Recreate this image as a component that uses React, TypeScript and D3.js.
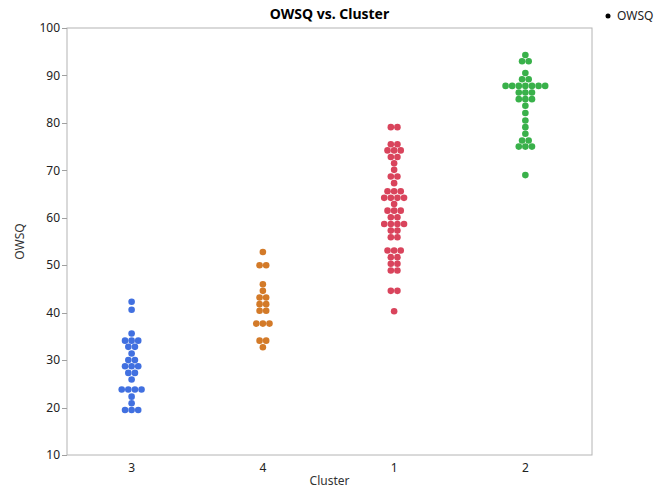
import React from 'react';
import * as d3 from 'd3';

const clusters = ['3', '4', '1', '2'];
const colors = ['#4170e0', '#d37a28', '#d9445c', '#39b14a'];
const yTicks = [10, 20, 30, 40, 50, 60, 70, 80, 90, 100];

// OWSQ values per cluster (repeated values sit side by side in a row)
const cluster3 = [
  42.3, 40.6, 35.6, 34.1, 34.1, 34.1, 32.8, 32.8, 31.4, 30.0, 30.0,
  28.7, 28.7, 28.7, 27.3, 27.3, 25.9, 23.8, 23.8, 23.8, 23.8, 22.3, 20.9,
  19.5, 19.5, 19.5,
];
const cluster4 = [
  52.8, 50.0, 50.0, 46.0, 44.6, 43.2, 43.2, 41.8, 41.8, 40.4, 40.4,
  37.7, 37.7, 37.7, 34.1, 34.1, 32.7,
];
const cluster1 = [
  79.1, 79.1, 75.5, 75.5, 74.2, 74.2, 74.2, 72.8, 72.8, 71.5, 70.1,
  68.7, 68.7, 67.3, 65.6, 65.6, 65.6, 64.2, 64.2, 64.2, 64.2, 62.9,
  61.5, 61.5, 61.5, 60.1, 60.1, 58.7, 58.7, 58.7, 58.7, 57.3, 57.3,
  55.9, 55.9, 53.1, 53.1, 53.1, 51.7, 51.7, 50.3, 50.3, 48.9, 48.9,
  44.6, 44.6, 40.3,
];
const cluster2 = [
  94.3, 93.0, 93.0, 90.5, 89.2, 89.2, 87.8, 87.8, 87.8, 87.8, 87.8, 87.8, 87.8,
  86.4, 86.4, 86.4, 85.0, 85.0, 85.0, 83.6, 82.1, 80.5, 79.1, 77.7,
  76.3, 76.3, 75.0, 75.0, 75.0, 69.0,
];
const seriesValues = [cluster3, cluster4, cluster1, cluster2];

const W = 657;
const H = 489;
const left = 67;
const right = 592;
const top = 28;
const bottom = 455;
const r = 3.3;
const gap = 6.6;
const font = '"Noto Sans", "DejaVu Sans", sans-serif';

export default function App() {
  const x = d3.scalePoint<string>().domain(clusters).range([left - 1, right - 1]).padding(0.5);
  const y = d3.scaleLinear().domain([10, 100]).range([bottom, top]);

  const dots: { cx: number; cy: number; fill: string; key: string }[] = [];
  seriesValues.forEach((vals, ci) => {
    const groups = d3.group(vals, (v) => v);
    groups.forEach((row, v) => {
      const n = row.length;
      row.forEach((_, i) => {
        dots.push({
          cx: (x(clusters[ci]) as number) + (i - (n - 1) / 2) * gap,
          cy: y(v),
          fill: colors[ci],
          key: `${ci}-${v}-${i}`,
        });
      });
    });
  });

  return (
    <svg width={W} height={H} style={{ position: 'absolute', left: 0, top: 0 }} fontFamily={font}>
      <rect x={0} y={0} width={W} height={H} fill="#fff" />
      <text x={(left + right) / 2} y={19} textAnchor="middle" fontSize={14} fontWeight="bold" fill="#000">
        OWSQ vs. Cluster
      </text>
      <rect x={left} y={top} width={right - left} height={bottom - top} fill="none" stroke="#b4b4b4" strokeWidth={1} />
      {yTicks.map((t) => (
        <g key={t}>
          <line x1={left - 5} x2={left} y1={Math.round(y(t)) + 0.5} y2={Math.round(y(t)) + 0.5} stroke="#a0a0a0" />
          <text x={left - 7} y={y(t)} dy="0.35em" textAnchor="end" fontSize={12} fill="#222">
            {t}
          </text>
        </g>
      ))}
      {clusters.map((c) => (
        <text key={c} x={x(c)} y={bottom + 17} textAnchor="middle" fontSize={12} fill="#222">
          {c}
        </text>
      ))}
      <text x={(left + right) / 2} y={485} textAnchor="middle" fontSize={12} fill="#333">
        Cluster
      </text>
      <text transform={`translate(24,${(top + bottom) / 2}) rotate(-90)`} textAnchor="middle" fontSize={12} fill="#333">
        OWSQ
      </text>
      {dots.map((d) => (
        <circle key={d.key} cx={d.cx} cy={d.cy} r={r} fill={d.fill} />
      ))}
      <circle cx={608} cy={16} r={2.5} fill="#000" />
      <text x={617} y={16} dy="0.35em" fontSize={12} fill="#222">
        OWSQ
      </text>
    </svg>
  );
}
